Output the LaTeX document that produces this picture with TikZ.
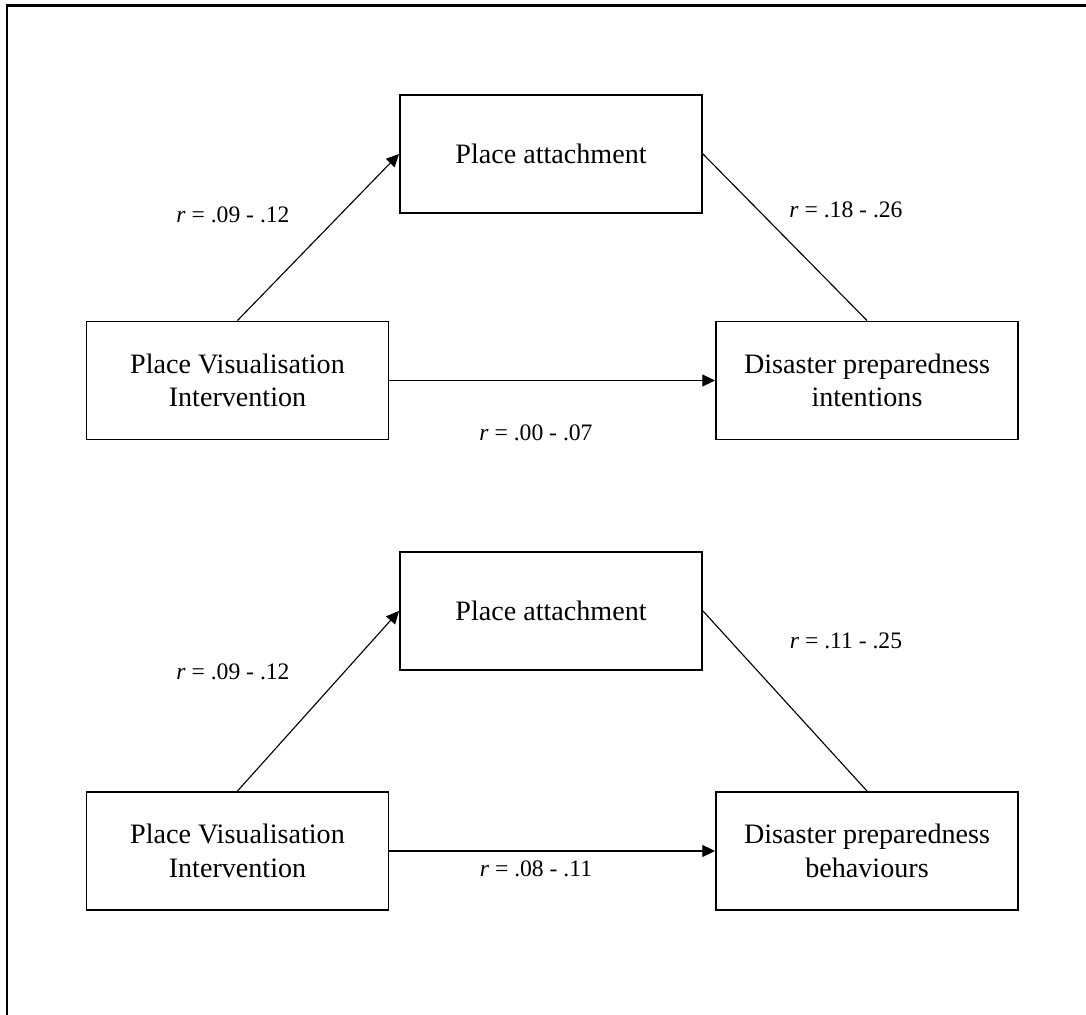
\documentclass[tikz,border=0pt]{standalone}
\usepackage{fontspec}
\setmainfont{Liberation Serif}
\usetikzlibrary{positioning}
\usetikzlibrary{arrows.meta}
\tikzstyle{box} = [draw, line width=1.4pt, rectangle, minimum width=7.55cm, minimum height=2.95cm, inner sep=0pt, align=center, font=\fontsize{20}{24}\selectfont]
\tikzstyle{every link} = [line width=0.8pt]
\tikzstyle{link} = [>={Triangle[length=9pt,width=8.5pt]}, draw, every link]
\tikzstyle{coef} = [inner sep=0pt, font=\fontsize{16.8}{20}\selectfont]
\tikzstyle{frame} = [line width=1.5pt]

\begin{document}
\begin{tikzpicture}
                    \useasboundingbox (0,0) rectangle (27.15,-25.375);
                    \draw[frame] (0.175,-25.375) -- (0.175,-0.1375) -- (27.15,-0.1375);

                    % intentions
                    \node[box] (attach) at (13.775,-3.85) {Place attachment};
                    \node[box] (visual) at (5.9375,-9.5125) {Place Visualisation\\Intervention};
                    \node[box] (intent) at (21.675,-9.5125) {Disaster preparedness\\intentions};
                    \draw[link,->] (visual.north) -- (attach.west);
                    \draw[link] (attach.east) -- (intent.north);
                    \draw[link,->] (visual.east) -- (intent.west);
                    \node[coef] (r1) at (5.825,-5.375) {\textit{r} = .09 - .12};
                    \node[coef] (r2) at (21.15,-5.25) {\textit{r} = .18 - .26};
                    \node[coef] (r3) at (13.4,-10.825) {\textit{r} = .00 - .07};

                    % behaviours
                    \node[box] (attachb) at (13.775,-15.275) {Place attachment};
                    \node[box] (visualb) at (5.9375,-21.275) {Place Visualisation\\Intervention};
                    \node[box] (behav) at (21.675,-21.275) {Disaster preparedness\\behaviours};
                    \draw[link,->] (visualb.north) -- (attachb.west);
                    \draw[link] (attachb.east) -- (behav.north);
                    \draw[link,->] (visualb.east) -- (behav.west);
                    \node[coef] (r4) at (5.825,-16.8) {\textit{r} = .09 - .12};
                    \node[coef] (r5) at (21.15,-16.025) {\textit{r} = .11 - .25};
                    \node[coef] (r6) at (13.4,-21.725) {\textit{r} = .08 - .11};
                \end{tikzpicture}
\end{document}
